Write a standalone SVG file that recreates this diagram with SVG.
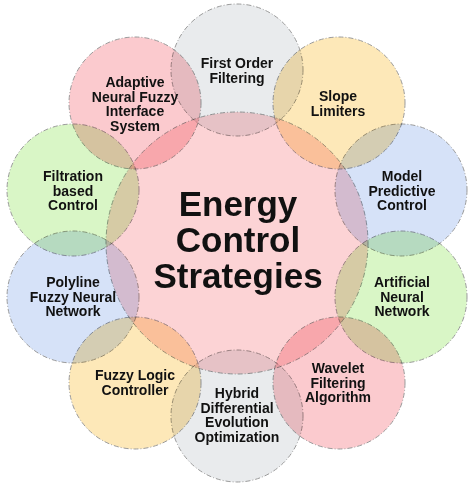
<svg xmlns="http://www.w3.org/2000/svg" width="474" height="487" viewBox="0 0 474 487">
<style>
circle{stroke:#9a9a9a;stroke-width:1;stroke-dasharray:5 2 1 2;mix-blend-mode:multiply}
text{font-family:"Liberation Sans",Arial,sans-serif;font-weight:bold;fill:#111;text-anchor:middle}
.s{font-size:14px}
.b{font-size:35px}
.pink{fill:#fbcace}
.gray{fill:#e9ebed}
.yel{fill:#fde8b8}
.blue{fill:#d6e2f8}
.green{fill:#d9f6c6}
</style>
<rect width="474" height="487" fill="#fff"/>
<g id="center">
<circle cx="237" cy="243" r="131" fill="#fcd3d5"/>
</g>
<g id="first-order">
<circle class="gray" cx="237" cy="70" r="66"/>
<text class="s" x="237" y="68">First Order</text>
<text class="s" x="237" y="82.5">Filtering</text>
</g>
<g id="slope">
<circle class="yel" cx="339" cy="103" r="66"/>
<text class="s" x="338" y="101">Slope</text>
<text class="s" x="338" y="115.5">Limiters</text>
</g>
<g id="mpc">
<circle class="blue" cx="401" cy="190" r="66"/>
<text class="s" x="402" y="181">Model</text>
<text class="s" x="402" y="195.5">Predictive</text>
<text class="s" x="402" y="210">Control</text>
</g>
<g id="ann">
<circle class="green" cx="401" cy="297" r="66"/>
<text class="s" x="402" y="287">Artificial</text>
<text class="s" x="402" y="301.5">Neural</text>
<text class="s" x="402" y="316">Network</text>
</g>
<g id="wavelet">
<circle class="pink" cx="339" cy="383" r="66"/>
<text class="s" x="338" y="373">Wavelet</text>
<text class="s" x="338" y="387.5">Filtering</text>
<text class="s" x="338" y="402">Algorithm</text>
</g>
<g id="hybrid">
<circle class="gray" cx="237" cy="416" r="66"/>
<text class="s" x="237" y="398">Hybrid</text>
<text class="s" x="237" y="412.5">Differential</text>
<text class="s" x="237" y="427">Evolution</text>
<text class="s" x="237" y="441.5">Optimization</text>
</g>
<g id="fuzzy-logic">
<circle class="yel" cx="135" cy="383" r="66"/>
<text class="s" x="135" y="380">Fuzzy Logic</text>
<text class="s" x="135" y="394.5">Controller</text>
</g>
<g id="polyline">
<circle class="blue" cx="73" cy="297" r="66"/>
<text class="s" x="73" y="287">Polyline</text>
<text class="s" x="73" y="301.5">Fuzzy Neural</text>
<text class="s" x="73" y="316">Network</text>
</g>
<g id="filtration">
<circle class="green" cx="73" cy="190" r="66"/>
<text class="s" x="73" y="181">Filtration</text>
<text class="s" x="73" y="195.5">based</text>
<text class="s" x="73" y="210">Control</text>
</g>
<g id="anfis">
<circle class="pink" cx="135" cy="103" r="66"/>
<text class="s" x="135" y="87">Adaptive</text>
<text class="s" x="135" y="101.5">Neural Fuzzy</text>
<text class="s" x="135" y="116">Interface</text>
<text class="s" x="135" y="130.5">System</text>
</g>
<g id="title">
<text class="b" x="238" y="216">Energy</text>
<text class="b" x="238" y="252">Control</text>
<text class="b" x="238" y="288">Strategies</text>
</g>
<g id="connectors"></g>
</svg>
